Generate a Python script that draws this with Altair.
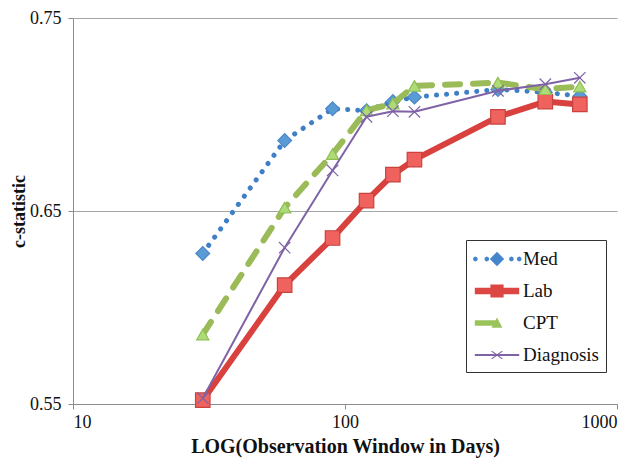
import altair as alt
import pandas as pd

# ---- data ----
days = [30, 60, 90, 120, 150, 180, 365, 545, 730]
series_names = ["Med", "Lab", "CPT", "Diagnosis"]
med = [0.628, 0.6865, 0.703, 0.702, 0.7067, 0.709, 0.713, 0.7115, 0.7095]
lab = [0.552, 0.6116, 0.636, 0.6554, 0.6688, 0.6766, 0.6988, 0.7067, 0.7052]
cpt = [0.586, 0.6517, 0.6795, 0.7022, 0.7056, 0.7148, 0.7165, 0.7131, 0.7145]
diagnosis = [0.553, 0.631, 0.671, 0.6988, 0.7017, 0.7014, 0.7123, 0.7157, 0.719]
y_ticks = [0.55, 0.65, 0.75]
x_ticks = [10, 100, 1000]

values = {"Med": med, "Lab": lab, "CPT": cpt, "Diagnosis": diagnosis}
rows = []
for name in series_names:
    for d, v in zip(days, values[name]):
        rows.append({"days": d, "c": v, "series": name})
df = pd.DataFrame(rows)

legend_fill = ["#4585cc", "#dc4743", "#9bc35c", "#7f63a6"]


# ---- legend glyphs (line sample + marker) as custom symbol paths ----
def dot(cx, r):
    k = round(r * 0.7071, 3)
    return (f"M{cx - r:.3f},0L{cx - k:.3f},{-k}L{cx},{-r}L{cx + k:.3f},{-k}"
            f"L{cx + r:.3f},0L{cx + k:.3f},{k}L{cx},{r}L{cx - k:.3f},{k}Z")


med_glyph = dot(-1.8, 0.2) + dot(-0.85, 0.2) + dot(1.2, 0.2) + dot(1.85, 0.2) + \
    "M0,-0.6L0.6,0L0,0.6L-0.6,0Z"
lab_glyph = "M-1.85,-0.28L1.85,-0.28L1.85,0.28L-1.85,0.28Z" + \
    "M-0.55,-0.55L0.55,-0.55L0.55,0.55L-0.55,0.55Z"
cpt_glyph = "M-1.85,-0.22L0,-0.22L0,0.22L-1.85,0.22Z" + \
    "M0,-0.45L0.45,0.4L-0.45,0.4Z"
dx_glyph = "M-1.85,-0.08L1.85,-0.08L1.85,0.08L-1.85,0.08Z" + \
    "M-0.42,-0.36L0,-0.06L0.42,-0.36L0.48,-0.3L0.06,0L0.48,0.3L0.42,0.36L0,0.06" \
    "L-0.42,0.36L-0.48,0.3L-0.06,0L-0.48,-0.3Z"
glyphs = [med_glyph, lab_glyph, cpt_glyph, dx_glyph]

FONT = "Liberation Serif"

x_enc = alt.X("days:Q",
              scale=alt.Scale(type="log", domain=[10, 1000]),
              axis=alt.Axis(values=x_ticks, format="d", grid=False,
                            title="LOG(Observation Window in Days)",
                            labelPadding=4, titlePadding=5,
                            titleFontSize=20))
y_enc = alt.Y("c:Q",
              scale=alt.Scale(domain=[0.55, 0.75]),
              axis=alt.Axis(values=y_ticks, format=".2f", grid=True,
                            title="c-statistic", labelPadding=7,
                            titlePadding=1, titleFontSize=18))

base = alt.Chart(df)

styles = {
    "Med": dict(line=dict(color="#3f7fc6", strokeDash=[0.1, 10], strokeWidth=5),
                point=dict(shape="diamond", size=190, fill="#5b9bd5",
                           stroke="#4a86c8")),
    "Lab": dict(line=dict(color="#d9413e", strokeWidth=6),
                point=dict(shape="square", size=210, fill="#f0625e",
                           stroke="#c8433f")),
    "CPT": dict(line=dict(color="#9bbb59", strokeDash=[15, 13], strokeWidth=6),
                point=dict(shape="triangle-up", size=150, fill="#addb78",
                           stroke="#8fbf52")),
    "Diagnosis": dict(line=dict(color="#7f63a6", strokeWidth=2),
                      point=dict(shape="M-1,-1L1,1M-1,1L1,-1", size=130,
                                 fill="none", stroke="#7f63a6")),
}

layers = []
for name in series_names:
    sub = base.transform_filter(alt.datum.series == name)
    st = styles[name]
    layers.append(
        sub.mark_line(strokeCap="round", strokeJoin="round", **st["line"])
        .encode(x=x_enc, y=y_enc)
    )
    layers.append(
        sub.mark_point(filled=name != "Diagnosis", opacity=1, strokeWidth=1.2,
                       **st["point"])
        .encode(x=x_enc, y=y_enc)
    )

legend_props = dict(title=None, orient="none", legendX=393, legendY=222,
                    symbolSize=576, symbolOpacity=1, symbolStrokeWidth=0,
                    symbolOffset=12, labelOffset=14, rowPadding=10, padding=7,
                    strokeColor="#333333", labelFont=FONT, labelFontSize=19,
                    labelColor="#111111", labelLimit=300)

# layer whose rows are all filtered out: it draws nothing and only carries the legend
legend_layer = base.transform_filter("datum.c > 10").mark_point(
    filled=True, opacity=1
).encode(
    x=x_enc, y=y_enc,
    fill=alt.Fill("series:N",
                  scale=alt.Scale(domain=series_names, range=legend_fill),
                  legend=alt.Legend(**legend_props)),
    shape=alt.Shape("series:N",
                    scale=alt.Scale(domain=series_names, range=glyphs),
                    legend=alt.Legend(**legend_props)),
)
layers.append(legend_layer)

chart = alt.layer(*layers).properties(
    width=544, height=386,
    autosize=alt.AutoSizeParams(type="none"),
    padding={"left": 65, "top": 10, "right": 14, "bottom": 54},
).configure_view(stroke=None).configure_axis(
    labelFont=FONT, labelFontSize=18, labelColor="#111111",
    titleFont=FONT, titleFontWeight="bold",
    titleColor="#111111",
    domainColor="#8c8c8c", tickColor="#8c8c8c", tickSize=5,
    gridColor="#a6a6a6", gridWidth=1,
).configure_legend(
    labelFont=FONT, labelFontSize=19, labelColor="#111111",
    symbolOpacity=1, symbolStrokeWidth=0,
)

chart.save("out.html", embed_options={"renderer": "svg", "actions": False})
